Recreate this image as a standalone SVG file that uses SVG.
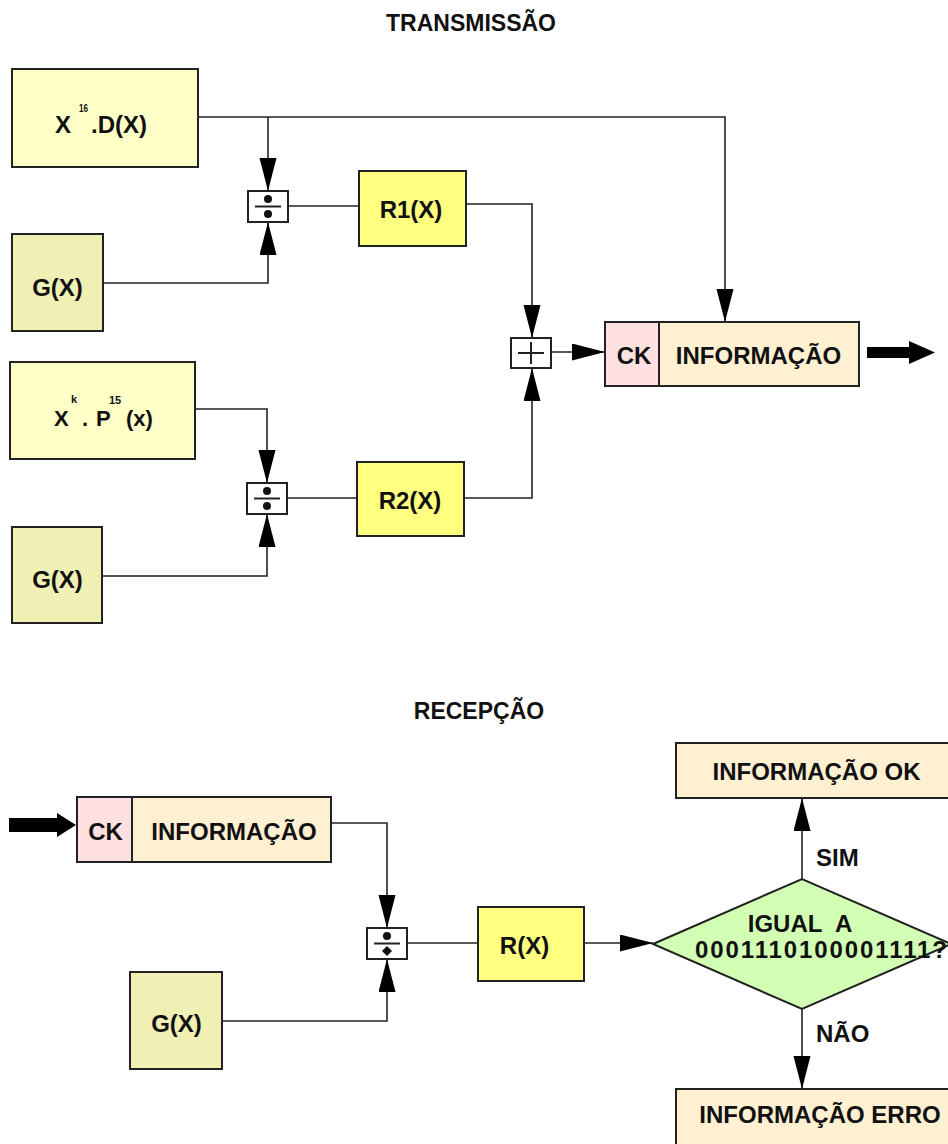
<svg xmlns="http://www.w3.org/2000/svg" width="948" height="1144" viewBox="0 0 948 1144">
  <style>
    text { font-family: "Liberation Sans", Arial, sans-serif; font-weight: bold; fill: #111; font-size: 24px; }
    .c { text-anchor: middle; }
    .sup { font-size: 11px; }
    .box { stroke: #222; stroke-width: 2; }
    .pale { fill: #FFFFC8; }
    .gx { fill: #F0F0B4; }
    .rx { fill: #FFFF80; }
    .ck { fill: #FFE0E0; }
    .info { fill: #FFF0D2; }
    .dec { fill: #D2FFB4; }
    .op { fill: #fff; stroke: #222; stroke-width: 2; }
    .sym { stroke: #222; stroke-width: 2; fill: none; }
    .wire { fill: none; stroke: #222; stroke-width: 1.6; }
  </style>
  <defs>
    <marker id="tri" markerUnits="userSpaceOnUse" markerWidth="34" markerHeight="18" refX="33" refY="8.5" orient="auto">
      <path d="M0,0 L33,8.5 L0,17 z" fill="#000"/>
    </marker>
  </defs>

  <text class="c" x="471" y="31" style="font-size:23px">TRANSMISSÃO</text>
  <text class="c" x="479" y="719" style="font-size:23px">RECEPÇÃO</text>

  <!-- connectors -->
  <g id="connectors">
    <path class="wire" d="M198,117 H725 V322" marker-end="url(#tri)"/>
    <path class="wire" d="M268,117 V191" marker-end="url(#tri)"/>
    <path class="wire" d="M103,283 H268 V222" marker-end="url(#tri)"/>
    <path class="wire" d="M289,206 H359"/>
    <path class="wire" d="M466,204 H532 V338" marker-end="url(#tri)"/>
    <path class="wire" d="M195,409 H267 V483" marker-end="url(#tri)"/>
    <path class="wire" d="M102,576 H267 V514" marker-end="url(#tri)"/>
    <path class="wire" d="M287,498 H357"/>
    <path class="wire" d="M464,498 H532 V368" marker-end="url(#tri)"/>
    <path class="wire" d="M551,352 H605" marker-end="url(#tri)"/>
    <path d="M867,347 H909 V341 L935,352.5 L909,364 V358 H867 z" fill="#000"/>

    <path d="M9,818 H57 V813 L76,825 L57,837 V832 H9 z" fill="#000"/>
    <path class="wire" d="M331,823 H387 V928" marker-end="url(#tri)"/>
    <path class="wire" d="M222,1021 H387 V959" marker-end="url(#tri)"/>
    <path class="wire" d="M407,943 H478"/>
    <path class="wire" d="M584,943 H653" marker-end="url(#tri)"/>
    <path class="wire" d="M802,879 V798" marker-end="url(#tri)"/>
    <path class="wire" d="M802,1009 V1089" marker-end="url(#tri)"/>
  </g>

  <!-- transmission side -->
  <g id="x16dx">
    <rect class="box pale" x="12" y="69" width="186" height="98"/>
    <text x="55" y="133">X</text>
    <text class="sup" x="79" y="112" textLength="9" lengthAdjust="spacingAndGlyphs">16</text>
    <text x="91" y="133">.D(X)</text>
  </g>
  <g id="gx1">
    <rect class="box gx" x="12" y="234" width="91" height="97"/>
    <text class="c" x="57.5" y="296">G(X)</text>
  </g>
  <g id="div1">
    <rect class="op" x="248" y="191" width="40" height="31"/>
    <line class="sym" x1="255" y1="206.5" x2="281" y2="206.5"/>
    <circle cx="268" cy="199" r="4" fill="#111"/>
    <circle cx="268" cy="214" r="4" fill="#111"/>
  </g>
  <g id="r1">
    <rect class="box rx" x="359" y="171" width="107" height="75"/>
    <text class="c" x="411" y="218">R1(X)</text>
  </g>
  <g id="xkp15">
    <rect class="box pale" x="10" y="362" width="185" height="97"/>
    <text x="54" y="426" style="font-size:22px">X</text>
    <text class="sup" x="71" y="403">k</text>
    <text x="82" y="426" style="font-size:22px">.</text>
    <text x="96" y="426" style="font-size:22px">P</text>
    <text class="sup" x="109" y="404">15</text>
    <text x="126" y="426" style="font-size:22px">(x)</text>
  </g>
  <g id="gx2">
    <rect class="box gx" x="12" y="527" width="90" height="96"/>
    <text class="c" x="57.5" y="588">G(X)</text>
  </g>
  <g id="div2">
    <rect class="op" x="247" y="483" width="40" height="31"/>
    <line class="sym" x1="254" y1="498.5" x2="280" y2="498.5"/>
    <circle cx="267" cy="491" r="4" fill="#111"/>
    <circle cx="267" cy="506" r="4" fill="#111"/>
  </g>
  <g id="r2">
    <rect class="box rx" x="357" y="462" width="107" height="74"/>
    <text class="c" x="410" y="509">R2(X)</text>
  </g>
  <g id="sum">
    <rect class="op" x="511" y="338" width="40" height="30"/>
    <line class="sym" x1="518" y1="353" x2="544" y2="353"/>
    <line class="sym" x1="531" y1="342" x2="531" y2="364"/>
  </g>
  <g id="frame-tx">
    <rect class="box ck" x="605" y="322" width="54" height="64"/>
    <rect class="box info" x="659" y="322" width="200" height="64"/>
    <text class="c" x="634" y="364">CK</text>
    <text class="c" x="758.5" y="364">INFORMAÇÃO</text>
  </g>

  <!-- reception side -->
  <g id="frame-rx">
    <rect class="box ck" x="77" y="797" width="55" height="65"/>
    <rect class="box info" x="132" y="797" width="199" height="65"/>
    <text class="c" x="105.5" y="840">CK</text>
    <text class="c" x="234" y="840">INFORMAÇÃO</text>
  </g>
  <g id="div3">
    <rect class="op" x="367" y="928" width="40" height="31"/>
    <line class="sym" x1="374" y1="943.5" x2="400" y2="943.5"/>
    <circle cx="387" cy="936" r="4" fill="#111"/>
    <path d="M387,946 L392,951 L387,956 L382,951 z" fill="#111"/>
  </g>
  <g id="gx3">
    <rect class="box gx" x="130" y="972" width="92" height="97"/>
    <text class="c" x="176.5" y="1032">G(X)</text>
  </g>
  <g id="rx">
    <rect class="box rx" x="478" y="907" width="106" height="74"/>
    <text class="c" x="524.5" y="954">R(X)</text>
  </g>
  <g id="check">
    <path class="box dec" d="M653,944 L802,879 L951,944 L802,1009 z"/>
    <text class="c" x="800" y="932">IGUAL&#160; A</text>
    <text x="695" y="958" textLength="252" lengthAdjust="spacing">0001110100001111?</text>
  </g>
  <g id="ok">
    <rect class="box info" x="676" y="743" width="290" height="55"/>
    <text class="c" x="816.5" y="780">INFORMAÇÃO OK</text>
  </g>
  <g id="erro">
    <rect class="box info" x="676" y="1089" width="290" height="70"/>
    <text class="c" x="820" y="1123">INFORMAÇÃO ERRO</text>
  </g>
  <text x="816" y="866">SIM</text>
  <text x="816" y="1042">NÃO</text>
</svg>
